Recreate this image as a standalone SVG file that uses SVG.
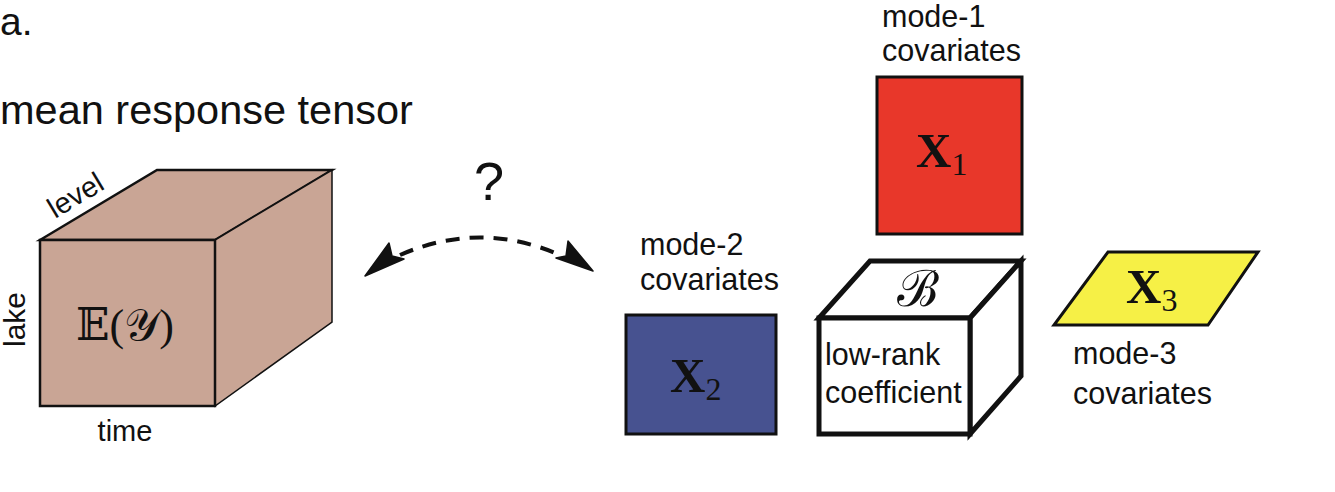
<svg xmlns="http://www.w3.org/2000/svg" width="1335" height="492" viewBox="0 0 1335 492">
<style>
.lbl{font-family:"Liberation Sans",Arial,sans-serif;font-size:30.5px;fill:#111}
.math{font-family:"Liberation Serif","DejaVu Serif",serif;fill:#111}
.mx{font-weight:bold;font-size:49px}
.sub{font-size:32px}
.edge{stroke:#111;stroke-linejoin:miter}
.dash{fill:none;stroke:#111;stroke-width:4;stroke-dasharray:14 10}
.head{fill:#111;stroke:#111;stroke-width:1.5;stroke-linejoin:round}
</style>
<rect width="1335" height="492" fill="#fff"/>
<text class="lbl" x="0" y="35" style="font-size:39px">a.</text>
<text class="lbl" x="0" y="124" style="font-size:41.5px">mean response tensor</text>

<g id="tensor">
<polygon points="40,240 157,170 332,170 215,240" fill="#C9A595" class="edge" stroke-width="2.5"/>
<polygon points="215,240 332,170 332,322 215,406" fill="#C9A595" class="edge" stroke-width="1.5"/>
<rect x="40" y="240" width="175" height="166" fill="#C9A595" class="edge" stroke-width="2.5"/>
<text class="math" x="125" y="340" text-anchor="middle" style="font-size:44px">𝔼(𝒴)</text>
<text class="lbl" transform="translate(55,219) rotate(-31)" style="font-size:29px">level</text>
<text class="lbl" transform="translate(25,347) rotate(-90)" style="font-size:30px">lake</text>
<text class="lbl" x="125" y="441" text-anchor="middle" style="font-size:29px">time</text>
</g>

<text class="lbl" x="489" y="200" text-anchor="middle" style="font-size:54px">?</text>

<g id="connectors">
<path class="dash" d="M400,255 Q480,220 560,255"/>
<polygon class="head" points="365,276 389,243 392,256 404,259"/>
<polygon class="head" points="593,271 568,241 566,256 556,258"/>
</g>

<g id="x2">
<text class="lbl" x="640" y="255">mode-2</text>
<text class="lbl" x="640" y="290">covariates</text>
<rect x="626" y="315" width="150" height="119" fill="#475290" class="edge" stroke-width="3"/>
<text class="math mx" x="670" y="392">X<tspan class="sub" font-weight="normal" dy="8">2</tspan></text>
</g>

<g id="x1">
<text class="lbl" x="882" y="27">mode-1</text>
<text class="lbl" x="882" y="61">covariates</text>
<rect x="877" y="77" width="145" height="157" fill="#E8372A" class="edge" stroke-width="3"/>
<text class="math mx" x="916" y="167">X<tspan class="sub" font-weight="normal" dy="8">1</tspan></text>
</g>

<g id="coef">
<polygon points="819,318 870,261 1021,261 970,318" fill="#fff" class="edge" stroke-width="5"/>
<polygon points="970,318 1021,261 1021,376 970,434" fill="#fff" class="edge" stroke-width="5"/>
<rect x="819" y="318" width="151" height="116" fill="#fff" class="edge" stroke-width="5"/>
<text class="math" x="918" y="306" text-anchor="middle" style="font-size:50px">ℬ</text>
<text class="lbl" x="825" y="365">low-rank</text>
<text class="lbl" x="825" y="403">coefficient</text>
</g>

<g id="x3">
<polygon points="1108,252 1258,252 1208,325 1054,325" fill="#F6F046" class="edge" stroke-width="3"/>
<text class="math mx" x="1126" y="303">X<tspan class="sub" font-weight="normal" dy="8">3</tspan></text>
<text class="lbl" x="1073" y="364">mode-3</text>
<text class="lbl" x="1073" y="404">covariates</text>
</g>
</svg>
